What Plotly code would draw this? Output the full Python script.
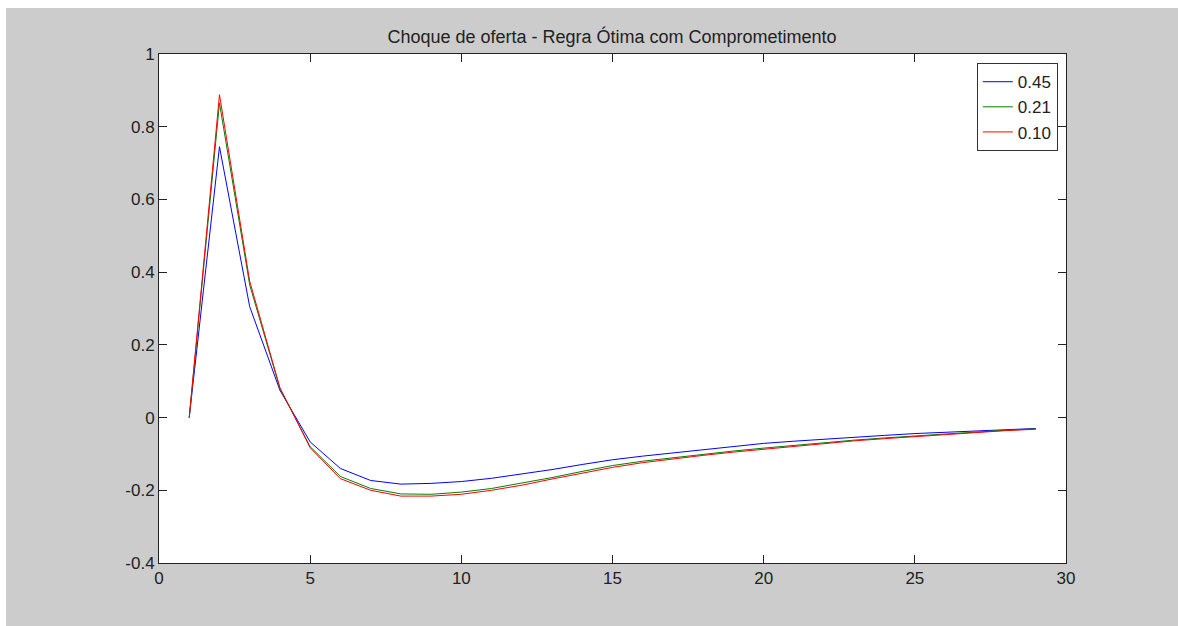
import plotly.graph_objects as go

periods = list(range(1, 30))
labels = ["0.45", "0.21", "0.10"]
blue_045 = [0, 0.745, 0.305, 0.075, -0.067, -0.140, -0.173, -0.183, -0.181, -0.176,
            -0.167, -0.156, -0.143, -0.129, -0.116, -0.106, -0.097, -0.088, -0.079, -0.071,
            -0.065, -0.059, -0.054, -0.049, -0.044, -0.040, -0.036, -0.033, -0.030]
green_021 = [0, 0.865, 0.365, 0.080, -0.080, -0.162, -0.195, -0.210, -0.211, -0.205,
             -0.195, -0.181, -0.165, -0.148, -0.132, -0.120, -0.110, -0.100, -0.092, -0.084,
             -0.076, -0.069, -0.062, -0.056, -0.050, -0.045, -0.040, -0.035, -0.031]
red_010 = [0, 0.888, 0.375, 0.082, -0.083, -0.168, -0.200, -0.216, -0.216, -0.211,
           -0.200, -0.186, -0.169, -0.152, -0.137, -0.124, -0.113, -0.104, -0.095, -0.087,
           -0.079, -0.071, -0.064, -0.058, -0.052, -0.046, -0.041, -0.036, -0.032]
series = [blue_045, green_021, red_010]
colors = ["#0000ff", "#008000", "#ff0000"]
x_ticks = [0, 5, 10, 15, 20, 25, 30]
y_ticks = [-0.4, -0.2, 0, 0.2, 0.4, 0.6, 0.8, 1]
y_tick_text = ["-0.4", "-0.2", "0", "0.2", "0.4", "0.6", "0.8", "1"]

fig = go.Figure()
for lab, ys, col in zip(labels, series, colors):
    fig.add_trace(go.Scatter(x=periods, y=ys, mode="lines", name=lab,
                             line=dict(color=col, width=1)))

axis_common = dict(showgrid=False, zeroline=False, showline=True, linecolor="#222222",
                   linewidth=1, mirror="ticks", ticks="inside", ticklen=8,
                   tickcolor="#222222", tickfont=dict(family="Liberation Sans", size=17, color="#222222"))
fig.update_xaxes(range=[0, 30], tickvals=x_ticks, **axis_common)
fig.update_yaxes(range=[-0.4, 1], tickvals=y_ticks, ticktext=y_tick_text, **axis_common)

fig.update_layout(
    width=1178, height=626,
    margin=dict(l=159, r=112, t=54, b=63),
    paper_bgcolor="#cccccc", plot_bgcolor="white",
    title=dict(text="Choque de oferta - Regra Ótima com Comprometimento",
               x=(612) / 1178, xanchor="center", y=1 - 37 / 626, yanchor="middle",
               font=dict(family="Liberation Sans", size=18, color="#222222")),
    legend=dict(x=0.991, y=0.982, xanchor="right", yanchor="top",
                bgcolor="white", bordercolor="#333333", borderwidth=1,
                font=dict(family="Liberation Sans", size=17, color="#222222"),
                tracegroupgap=0, itemwidth=30),
    showlegend=True,
    shapes=[
        dict(type="rect", xref="paper", yref="paper", x0=-0.2, x1=1.2,
             y0=(563 - 8) / 509, y1=1.2, fillcolor="white", line=dict(width=0), layer="above"),
        dict(type="rect", xref="paper", yref="paper", x0=-0.2, x1=(6 - 159) / 907,
             y0=-0.2, y1=1.2, fillcolor="white", line=dict(width=0), layer="above"),
    ],
)

fig.write_html("out.html")
